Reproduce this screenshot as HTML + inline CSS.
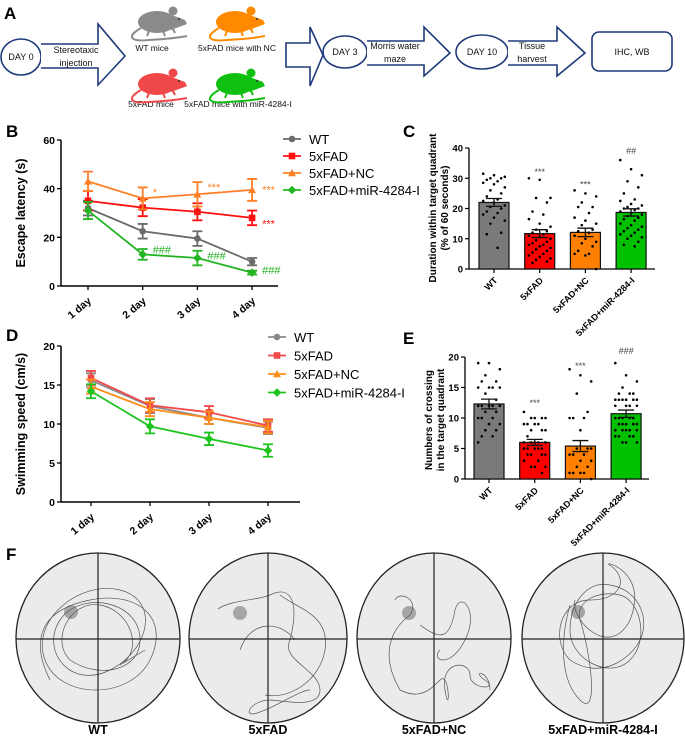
<!DOCTYPE html>
<html><head><meta charset="utf-8"><style>
html,body{margin:0;padding:0;background:#fff;}
svg{display:block;font-family:"Liberation Sans",Arial,sans-serif;}
</style></head><body>
<svg id="fig" width="685" height="738" viewBox="0 0 685 738">
<!-- Panel A -->
<g fill="none" stroke="#1f3a7a" stroke-width="1.6">
<text x="4" y="19" font-size="17" font-weight="bold" fill="#000" stroke="none">A</text>
<ellipse cx="21" cy="57" rx="20" ry="18" fill="#fff"/>
<path d="M41 44 H98 V24 L125 56 L98 85 V68 H41" fill="#fff"/>
<path d="M286 43 H310 V27 L323 55 L310 86 V67 H286 Z" fill="#fff"/>
<ellipse cx="345" cy="52" rx="22" ry="16" fill="#fff"/>
<path d="M367 41 H424 V27 L450 53 L424 76 V65 H367" fill="#fff"/>
<ellipse cx="482" cy="52" rx="26" ry="17" fill="#fff"/>
<path d="M508 41 H557 V27 L585 53 L557 76 V65 H508" fill="#fff"/>
<rect x="592" y="32" width="80" height="39" rx="7" fill="#fff"/>
</g>
<g font-size="9" fill="#111">
<text x="21" y="60" text-anchor="middle">DAY 0</text>
<text x="76" y="53" text-anchor="middle">Stereotaxic</text>
<text x="76" y="66" text-anchor="middle">injection</text>
<text x="345" y="55" text-anchor="middle">DAY 3</text>
<text x="395" y="49" text-anchor="middle">Morris water</text>
<text x="395" y="62" text-anchor="middle">maze</text>
<text x="482" y="55" text-anchor="middle">DAY 10</text>
<text x="532" y="49" text-anchor="middle">Tissue</text>
<text x="532" y="62" text-anchor="middle">harvest</text>
<text x="632" y="55" text-anchor="middle">IHC, WB</text>
<text x="152" y="51" text-anchor="middle" font-size="8.5">WT mice</text>
<text x="237" y="51" text-anchor="middle" font-size="8.5">5xFAD mice with NC</text>
<text x="151" y="107" text-anchor="middle" font-size="8.5">5xFAD mice</text>
<text x="238" y="107" text-anchor="middle" font-size="8.5">5xFAD mice with miR-4284-I</text>
</g>
<g id="mice"></g>

<text x="6" y="137" font-size="17" font-weight="bold">B</text>
<g id="chartB"></g>
<text x="403" y="137" font-size="17" font-weight="bold">C</text>
<g id="chartC"></g>
<text x="6" y="341" font-size="17" font-weight="bold">D</text>
<g id="chartD"></g>
<text x="403" y="344" font-size="17" font-weight="bold">E</text>
<g id="chartE"></g>
<text x="6" y="560" font-size="17" font-weight="bold">F</text>
<g id="panelF"></g>
</svg>
<script>
const days = ["1 day","2 day","3 day","4 day"];
const groups = ["WT","5xFAD","5xFAD+NC","5xFAD+miR-4284-I"];
const latencyWT = [32, 22.5, 19.5, 10];
const latencyFAD = [35, 32.2, 30.5, 28];
const latencyNC = [43, 36, 37.7, 39.5];
const latencyMiR = [31, 13, 11.5, 5.5];
const latencyErrWT = [3, 3, 3, 1.5];
const latencyErrFAD = [4, 3.5, 3.5, 3];
const latencyErrNC = [4, 4.5, 5, 4.5];
const latencyErrMiR = [3.5, 2.2, 3, 0.8];
const speedWT = [15.6, 12.3, 10.8, 9.5];
const speedFAD = [15.9, 12.4, 11.5, 9.8];
const speedNC = [14.8, 11.9, 10.8, 9.6];
const speedMiR = [14.2, 9.7, 8.1, 6.6];
const speedErr = [0.9, 0.9, 0.8, 0.8];
const latencyTicks = [0, 20, 40, 60];
const speedTicks = [0, 5, 10, 15, 20];
const durationMeans = [22, 11.7, 12.1, 18.7];
const durationSem = [1.3, 1.3, 1.4, 1.2];
const durationWT = [31.5,31,30.5,30,30,29.5,29,28.5,28,27,26,25,24,23,22.5,22,21,20.5,20,19,18.5,18,17,16,15,12,11.5,7];
const durationFAD = [30,29.5,23.5,23.5,22,19,18,16.5,15,14,13,12.5,12,11.5,11,10.5,10,9.5,9,8.5,8,8,7.5,7,6.5,6,5.5,5,4.5,4,3.5,3,2.5,2];
const durationNC = [26,25,24,22,20.5,20.5,18.5,17,16,15,14.5,13,12.5,12,11,10,9,8.5,7.5,6,5,5,4.5,0];
const durationMiR = [36,33,31,29,27,25,23,22.5,21.5,21,20.5,20,20,19.5,19,18.5,18,17.5,17,16.5,16,15,14.5,14,13.5,13,12.5,12,11.5,11,10.5,10,9,8,7.5];
const durationTicks = [0, 10, 20, 30, 40];
const crossMeans = [12.3, 6.0, 5.4, 10.7];
const crossSem = [0.8, 0.5, 0.9, 0.6];
const crossWT = [19,19,18,17,16,16,15,15,15,15,14,13,12,12,12,12,12,11,11,10,10,10,9,9,8,8,7,7,6];
const crossFAD = [11,10,10,10,10,9,9,9,9,8,8,8,7,6,6,6,6,6,5,5,5,5,5,4,4,4,4,3,3,2,2,2,1];
const crossNC = [18,17,16,14,11,10,10,10,8,5,5,5,4,4,4,3,3,2,2,1,1,1,1,0];
const crossMiR = [19,17,16,15,14,14,14,13,13,13,13,13,13,12,12,12,12,10,10,10,10,10,9,9,9,9,9,8,8,8,8,8,7,7,7,7,6,6,6];
const crossTicks = [0, 5, 10, 15, 20];

const NS = "http://www.w3.org/2000/svg";
function mk(parent, tag, attrs, text) {
  const e = document.createElementNS(NS, tag);
  for (const k in attrs) e.setAttribute(k, attrs[k]);
  if (text !== undefined) e.textContent = text;
  parent.appendChild(e);
  return e;
}
function marker(g, shape, x, y, s, color) {
  let el;
  if (shape === "circle") el = mk(g, "circle", {cx: x, cy: y, r: s, fill: color});
  else if (shape === "square") el = mk(g, "rect", {x: x - s, y: y - s, width: 2 * s, height: 2 * s, fill: color});
  else if (shape === "tri") el = mk(g, "path", {d: `M${x} ${y - s * 1.2} L${x + s * 1.2} ${y + s} L${x - s * 1.2} ${y + s} Z`, fill: color});
  else el = mk(g, "path", {d: `M${x} ${y - s * 1.3} L${x + s * 1.3} ${y} L${x} ${y + s * 1.3} L${x - s * 1.3} ${y} Z`, fill: color});
  return el;
}

function lineChart(gid, cfg) {
  const g = document.getElementById(gid);
  const xS = i => cfg.x0 + i * cfg.dx;
  const yS = v => cfg.yBase - v * cfg.pxPer;
  mk(g, "line", {x1: cfg.ax, y1: yS(cfg.ticks[cfg.ticks.length - 1]), x2: cfg.ax, y2: cfg.yBase, stroke: "#000", "stroke-width": 1.5});
  mk(g, "line", {x1: cfg.ax, y1: cfg.yBase, x2: cfg.axEnd, y2: cfg.yBase, stroke: "#000", "stroke-width": 1.5});
  cfg.ticks.forEach(t => {
    const tk = mk(g, "line", {x1: cfg.ax - 4, y1: yS(t), x2: cfg.ax, y2: yS(t), stroke: "#000", "stroke-width": 1.3});
    
    
    const tl = mk(g, "text", {x: cfg.ax - 6, y: yS(t) + 4, "font-size": 10.5, "font-weight": "bold", "text-anchor": "end"}, t);
    
    
  });
  days.forEach((d, i) => {
    mk(g, "line", {x1: xS(i), y1: cfg.yBase, x2: xS(i), y2: cfg.yBase + 4, stroke: "#000", "stroke-width": 1.3});
    const tl = mk(g, "text", {x: xS(i) + 4, y: cfg.yBase + 16, "font-size": 10.5, "font-weight": "bold", "text-anchor": "end", transform: `rotate(-40 ${xS(i) + 4} ${cfg.yBase + 16})`}, d);
    
    
  });
  const yt = mk(g, "text", {x: 0, y: 0, "font-size": 12.5, "font-weight": "bold", "text-anchor": "middle", transform: `translate(${cfg.ax - 36} ${cfg.titleY}) rotate(-90)`}, cfg.title);
  
  
  cfg.series.forEach((s, si) => {
    const sg = mk(g, "g", {});
    
    
    const pts = s.vals.map((v, i) => xS(i) + "," + yS(v)).join(" ");
    mk(sg, "polyline", {points: pts, fill: "none", stroke: s.color, "stroke-width": 1.8});
    s.vals.forEach((v, i) => {
      const e = s.err[i];
      mk(sg, "path", {d: `M${xS(i)} ${yS(v + e)} V${yS(v - e)} M${xS(i) - 5} ${yS(v + e)} H${xS(i) + 5} M${xS(i) - 5} ${yS(v - e)} H${xS(i) + 5}`, stroke: s.color, "stroke-width": 1.8, fill: "none"});
      const m = marker(sg, s.shape, xS(i), yS(v), 3.3, s.color);
      
      
    });
    const ly = cfg.legY + si * cfg.legDy;
    const lg = mk(g, "g", {});
    
    
    mk(lg, "line", {x1: cfg.legX, y1: ly, x2: cfg.legX + 18, y2: ly, stroke: s.color, "stroke-width": 1.8});
    marker(lg, s.shape, cfg.legX + 9, ly, 3.3, s.color);
    mk(lg, "text", {x: cfg.legX + 26, y: ly + 5, "font-size": 13}, s.name);
  });
  (cfg.annot || []).forEach(a => {
    const t = mk(g, "text", {x: xS(a.i) + 10, y: yS(a.v) + 5, "font-size": 11, fill: a.color}, a.t);
    
    
  });
}
lineChart("chartB", {
  x0: 88, dx: 54.7, yBase: 286, pxPer: 146 / 60, ax: 61, axEnd: 278, ticks: latencyTicks,
  title: "Escape latency (s)", titleY: 213, legX: 283, legY: 139, legDy: 17,
  series: [
    {key: "wt", name: "WT", vals: latencyWT, err: latencyErrWT, color: "#6b6b6b", shape: "circle"},
    {key: "5xfad", name: "5xFAD", vals: latencyFAD, err: latencyErrFAD, color: "#ff1010", shape: "square"},
    {key: "nc", name: "5xFAD+NC", vals: latencyNC, err: latencyErrNC, color: "#ff7f27", shape: "tri"},
    {key: "mir", name: "5xFAD+miR-4284-I", vals: latencyMiR, err: latencyErrMiR, color: "#22b422", shape: "diamond"}
  ],
  annot: [
    {i: 1, v: 39, t: "*", color: "#ff7f27"}, {i: 2, v: 41, t: "***", color: "#ff7f27"}, {i: 3, v: 40, t: "***", color: "#ff7f27"},
    {i: 3, v: 26, t: "***", color: "#ff1010"},
    {i: 1, v: 15.5, t: "###", color: "#22b422"}, {i: 2, v: 13, t: "###", color: "#22b422"}, {i: 3, v: 7, t: "###", color: "#22b422"}
  ]
});
lineChart("chartD", {
  x0: 91, dx: 59, yBase: 502, pxPer: 156 / 20, ax: 61, axEnd: 300, ticks: speedTicks,
  title: "Swimming speed (cm/s)", titleY: 424, legX: 268, legY: 337, legDy: 18.5,
  series: [
    {key: "wt", name: "WT", vals: speedWT, err: speedErr, color: "#8a8a8a", shape: "circle"},
    {key: "5xfad", name: "5xFAD", vals: speedFAD, err: speedErr, color: "#f24a4a", shape: "square"},
    {key: "nc", name: "5xFAD+NC", vals: speedNC, err: speedErr, color: "#ff8c1a", shape: "tri"},
    {key: "mir", name: "5xFAD+miR-4284-I", vals: speedMiR, err: speedErr, color: "#1ec41e", shape: "diamond"}
  ]
});

const barColors = ["#7a7a7a", "#ff0000", "#ff8000", "#00c000"];
function barChart(gid, cfg) {
  const g = document.getElementById(gid);
  const yS = v => cfg.yBase - v * cfg.pxPer;
  const top = cfg.ticks[cfg.ticks.length - 1];
  mk(g, "line", {x1: cfg.ax, y1: yS(top), x2: cfg.ax, y2: cfg.yBase, stroke: "#000", "stroke-width": 1.3});
  mk(g, "line", {x1: cfg.ax, y1: cfg.yBase, x2: cfg.axEnd, y2: cfg.yBase, stroke: "#000", "stroke-width": 1.3});
  cfg.ticks.forEach(t => {
    mk(g, "line", {x1: cfg.ax - 4, y1: yS(t), x2: cfg.ax, y2: yS(t), stroke: "#000", "stroke-width": 1.2});
    const tl = mk(g, "text", {x: cfg.ax - 6, y: yS(t) + 3.5, "font-size": 9.5, "font-weight": "bold", "text-anchor": "end"}, t);
    
    
  });
  cfg.titles.forEach((tt, k) => {
    const yt = mk(g, "text", {x: 0, y: 0, "font-size": 10, "font-weight": "bold", "text-anchor": "middle", transform: `translate(${cfg.titleX + k * 12} ${cfg.titleY}) rotate(-90)`}, tt);
    
    
  });
  groups.forEach((name, i) => {
    const cx = cfg.x0 + i * cfg.dx;
    const m = cfg.means[i];
    const b = mk(g, "rect", {x: cx - 15, y: yS(m), width: 30, height: cfg.yBase - yS(m), fill: barColors[i], stroke: "#111", "stroke-width": 1.2});
    
    
    mk(g, "line", {x1: cx, y1: cfg.yBase, x2: cx, y2: cfg.yBase + 4, stroke: "#000", "stroke-width": 1.2});
    cfg.pts[i].forEach((v, j) => {
      const off = (((j * 3) % 7) - 3) * 3.6;
      const d = mk(g, "circle", {cx: cx + off, cy: yS(v), r: 1.3, fill: "#000"});
      
      
    });
    const s = cfg.sem[i];
    mk(g, "path", {d: `M${cx} ${yS(m + s)} V${yS(m - s)} M${cx - 8} ${yS(m + s)} H${cx + 8} M${cx - 8} ${yS(m - s)} H${cx + 8}`, stroke: "#111", "stroke-width": 1.3, fill: "none"});
    const tx = cx + 4, ty = cfg.yBase + 12;
    const tl = mk(g, "text", {x: tx, y: ty, "font-size": 9, "font-weight": "bold", "text-anchor": "end", transform: `rotate(-45 ${tx} ${ty})`}, name);
    
    
  });
  cfg.annot.forEach(a => {
    const t = mk(g, "text", {x: cfg.x0 + a.i * cfg.dx, y: yS(a.v), "font-size": 9, fill: "#444", "text-anchor": "middle"}, a.t);
    
    
  });
}
barChart("chartC", {
  x0: 494, dx: 45.7, yBase: 269, pxPer: 121 / 40, ax: 469, axEnd: 655, ticks: durationTicks,
  means: durationMeans, sem: durationSem, pts: [durationWT, durationFAD, durationNC, durationMiR],
  titles: ["Duration within target quadrant", "(% of 60 seconds)"], titleX: 436, titleY: 208,
  annot: [{i: 1, v: 31, t: "***"}, {i: 2, v: 27, t: "***"}, {i: 3, v: 38, t: "##"}]
});
barChart("chartE", {
  x0: 489, dx: 45.7, yBase: 479, pxPer: 122 / 20, ax: 465, axEnd: 649, ticks: crossTicks,
  means: crossMeans, sem: crossSem, pts: [crossWT, crossFAD, crossNC, crossMiR],
  titles: ["Numbers of crossing", "in the target quadrant"], titleX: 432, titleY: 420,
  annot: [{i: 1, v: 12, t: "***"}, {i: 2, v: 18, t: "***"}, {i: 3, v: 20.5, t: "###"}]
});

(function () {
  const g = document.getElementById("mice");
  const mice = [
    {x: 127, y: 6, c: "#8a8a8a", n: "mouse-wt"}, {x: 205, y: 6, c: "#ff8a00", n: "mouse-5xfad-nc"},
    {x: 127, y: 68, c: "#f04848", n: "mouse-5xfad"}, {x: 205, y: 68, c: "#10c010", n: "mouse-5xfad-mir"}
  ];
  mice.forEach(m => {
    const mg = mk(g, "g", {transform: `translate(${m.x} ${m.y})`});
    
    
    mk(mg, "path", {d: "M14 22 C0 30 2 36 22 34 C40 33 50 32 60 30", fill: "none", stroke: m.c, "stroke-width": 2});
    mk(mg, "ellipse", {cx: 30, cy: 16, rx: 19, ry: 11, fill: m.c});
    mk(mg, "path", {d: "M42 8 L58 14 L60 18 L44 24 Z", fill: m.c});
    mk(mg, "circle", {cx: 46, cy: 5, r: 4.5, fill: m.c});
    mk(mg, "circle", {cx: 52, cy: 13, r: 1, fill: "#333"});
    mk(mg, "path", {d: "M22 25 L20 30 M36 25 L38 30 M46 23 L48 27", stroke: m.c, "stroke-width": 2});
  });
})();

(function () {
  const g = document.getElementById("panelF");
  const pools = [
    {cx: 98, rx: 82, label: "WT", px: 71, py: 612,
     path: "M50 680 C30 640 40 610 90 600 C140 590 170 620 150 660 C130 700 60 700 45 660 C30 620 80 580 120 590 C160 600 150 650 110 670 C70 690 40 650 60 620 C80 590 140 600 140 640 C140 670 100 680 70 660 C50 640 70 600 100 605 C130 610 145 650 120 665 L145 650"},
    {cx: 268, rx: 79, label: "5xFAD", px: 240, py: 613,
     path: "M218 609 C230 600 260 600 270 595 C290 585 300 600 290 640 C280 660 320 670 320 690 C320 710 280 700 270 700 C250 700 240 720 260 712 C280 705 300 690 310 690 M280 595 C300 610 330 615 325 650 C320 680 290 700 265 695 M240 650 C250 620 280 620 295 640"},
    {cx: 434, rx: 77, label: "5xFAD+NC", px: 409, py: 613,
     path: "M395 600 C400 590 420 600 410 615 C390 630 380 655 400 690 C420 700 430 690 440 680 C450 670 450 720 445 690 C440 660 470 660 470 675 C470 690 500 690 485 680 C470 670 490 670 490 690 M420 625 C440 640 450 640 455 610 C460 590 480 610 465 640 C450 670 430 660 440 650"},
    {cx: 603, rx: 81, label: "5xFAD+miR-4284-I", px: 578, py: 612,
     path: "M570 605 C560 640 560 680 580 700 C600 720 590 650 580 620 C575 600 600 590 620 595 C640 600 650 640 630 660 C610 680 570 660 570 630 C570 600 590 580 610 585 C640 590 650 620 640 640 C630 660 600 680 570 660 C550 640 560 600 590 600 C620 600 630 580 610 565 C600 560 650 570 630 620 C610 660 570 620 575 600"}
  ];
  pools.forEach((p, i) => {
    const pg = mk(g, "g", {});
    
    
    mk(pg, "ellipse", {cx: p.cx, cy: 638, rx: p.rx, ry: 85, fill: "#ebebeb", stroke: "#222", "stroke-width": 1.3});
    mk(pg, "circle", {cx: p.px, cy: p.py, r: 7, fill: "#a5a5a5"});
    mk(pg, "path", {d: p.path, fill: "none", stroke: "#555", "stroke-width": 0.7});
    mk(pg, "line", {x1: p.cx - p.rx, y1: 639, x2: p.cx + p.rx, y2: 639, stroke: "#222", "stroke-width": 1.2});
    mk(pg, "line", {x1: p.cx, y1: 553, x2: p.cx, y2: 723, stroke: "#222", "stroke-width": 1.2});
    const t = mk(pg, "text", {x: p.cx, y: 734, "font-size": 12.5, "font-weight": "bold", "text-anchor": "middle"}, p.label);
    
    
  });
})();
</script>
</body></html>
